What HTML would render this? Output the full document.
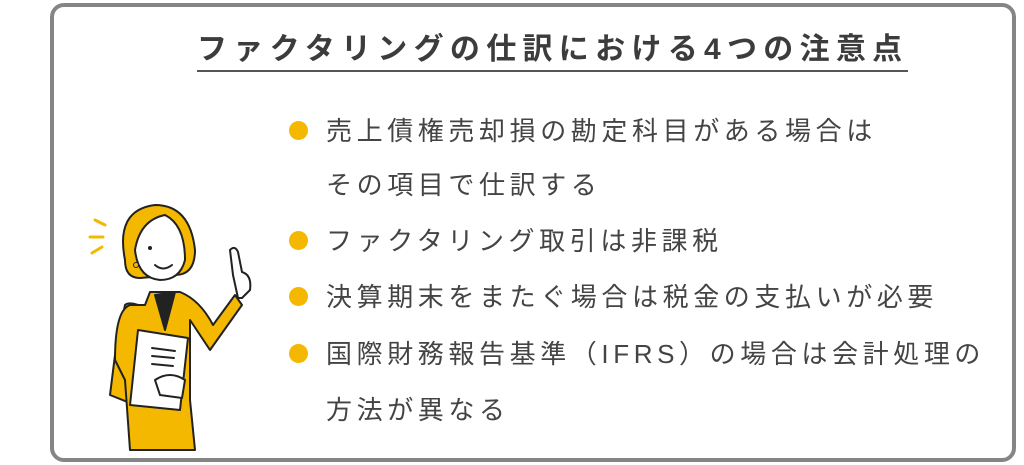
<!DOCTYPE html>
<html><head><meta charset="utf-8"><style>
html,body{margin:0;padding:0;background:#fff;}
body{width:1024px;height:465px;position:relative;overflow:hidden;font-family:"Liberation Sans","Noto Sans CJK JP",sans-serif;}
.box{position:absolute;left:50px;top:3px;width:958px;height:451px;border:4px solid #858585;border-radius:14px;background:#fff;}
.title{position:absolute;left:197px;top:30px;font-size:30px;color:#3c3c3c;letter-spacing:6.3px;white-space:nowrap;font-weight:bold;border-bottom:2px solid #555;line-height:40px;}
.t{position:absolute;left:326px;font-size:26px;color:#444;letter-spacing:4.6px;white-space:nowrap;line-height:30px;}
.dot{position:absolute;left:289px;width:19px;height:19px;border-radius:50%;background:#f5b800;}
</style></head><body>
<div class="box"></div>
<div class="title">ファクタリングの仕訳における4つの注意点</div>
<div class="dot" style="top:121px"></div>
<div class="t" style="top:116px">売上債権売却損の勘定科目がある場合は</div>
<div class="t" style="top:170px">その項目で仕訳する</div>
<div class="dot" style="top:231px"></div>
<div class="t" style="top:226px">ファクタリング取引は非課税</div>
<div class="dot" style="top:287px"></div>
<div class="t" style="top:282px">決算期末をまたぐ場合は税金の支払いが必要</div>
<div class="dot" style="top:344px"></div>
<div class="t" style="top:339px">国際財務報告基準（IFRS）の場合は会計処理の</div>
<div class="t" style="top:395px">方法が異なる</div>
<svg style="position:absolute;left:70px;top:180px" width="220" height="280" viewBox="0 0 220 280">
<g stroke="#222" stroke-width="2" stroke-linejoin="round" stroke-linecap="round">
<path d="M25 40 L35 45 M20 57 L33 57 M22 73 L32 67" stroke="#f5b800" stroke-width="3"/>
<path d="M55 80 Q45 30 85 25 Q120 25 125 70 Q125 95 105 95 L70 98 Q55 98 55 80Z" fill="#f5b800"/>
<path d="M65 70 Q70 40 95 35 Q115 45 115 80 Q110 100 90 100 Q68 98 65 70Z" fill="#fff"/>
<path d="M80 130 Q60 120 55 125 L45 175 L40 215 L65 225 L65 215 L75 170Z" fill="#f5b800"/>
<path d="M80 112 L75 125 L60 125 Q45 130 45 180 L55 200 L60 270 L125 270 L120 220 L120 140 L140 170 L172 125 L165 115 L143 145 Q130 120 110 112Z" fill="#f5b800"/>
<path d="M85 115 L95 150 L105 112Z" fill="#222"/>
<path d="M68 150 L118 158 L110 230 L60 225Z" fill="#fff"/>
<path d="M82 168 L105 171 M82 176 L104 178 M82 184 L103 186" />
<path d="M85 200 Q100 190 115 200 L112 218 L90 215Z" fill="#fff"/>
<path d="M168 118 L163 95 L160 70 Q165 65 168 72 L172 92 Q182 95 180 110 L172 118Z" fill="#fff"/>
<path d="M85 85 Q93 92 102 85" fill="none"/>
</g>
<circle cx="80" cy="68" r="2" fill="#222"/>
<circle cx="66" cy="85" r="2.5" fill="#f5b800" stroke="#222"/>
</svg>
</body></html>
